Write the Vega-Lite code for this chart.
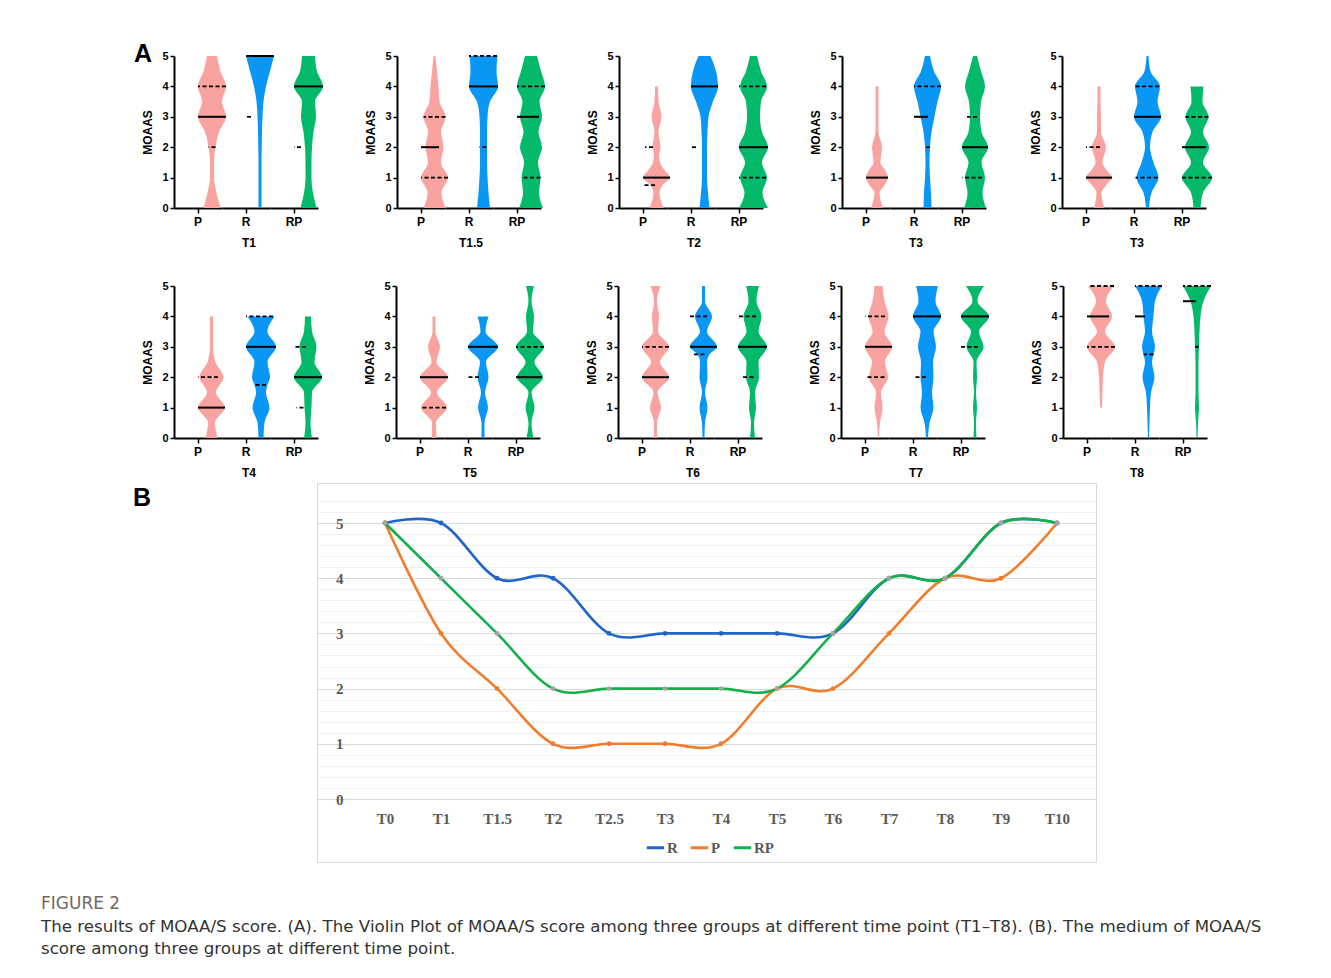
{
"$schema":"https://vega.github.io/schema/vega-lite/v6.json",
"background":"white",
"padding":{"left":41,"top":42,"right":10,"bottom":10},
"title":{"text":"FIGURE 2","subtitle":["The results of MOAA/S score. (A). The Violin Plot of MOAA/S score among three groups at different time point (T1–T8). (B). The medium of MOAA/S","score among three groups at different time point."],"orient":"bottom","anchor":"start","dx":-92,"offset":33,"font":"DejaVu Sans","fontSize":17,"fontWeight":"normal","color":"#75675C","subtitleFont":"DejaVu Sans","subtitleFontSize":16.7,"subtitleColor":"#333333","subtitleLineHeight":22,"subtitlePadding":6},
"datasets":{
"vio":[
{"p":1,"g":"P","k":"s","y":0,"d":17},{"p":1,"g":"P","k":"s","y":0.5,"d":9},{"p":1,"g":"P","k":"s","y":1,"d":4},{"p":1,"g":"P","k":"s","y":1.5,"d":4},{"p":1,"g":"P","k":"s","y":2,"d":7},{"p":1,"g":"P","k":"s","y":2.5,"d":14},{"p":1,"g":"P","k":"s","y":3,"d":28},{"p":1,"g":"P","k":"s","y":3.5,"d":20},{"p":1,"g":"P","k":"s","y":4,"d":28},{"p":1,"g":"P","k":"s","y":4.5,"d":17},{"p":1,"g":"P","k":"s","y":5,"d":10},
{"p":1,"g":"R","k":"s","y":0,"d":3},{"p":1,"g":"R","k":"s","y":0.5,"d":3},{"p":1,"g":"R","k":"s","y":1,"d":3},{"p":1,"g":"R","k":"s","y":1.5,"d":3},{"p":1,"g":"R","k":"s","y":2,"d":3.5},{"p":1,"g":"R","k":"s","y":2.5,"d":4},{"p":1,"g":"R","k":"s","y":3,"d":5},{"p":1,"g":"R","k":"s","y":3.5,"d":7},{"p":1,"g":"R","k":"s","y":4,"d":12},{"p":1,"g":"R","k":"s","y":4.5,"d":20},{"p":1,"g":"R","k":"s","y":5,"d":28},
{"p":1,"g":"RP","k":"s","y":0,"d":16},{"p":1,"g":"RP","k":"s","y":0.5,"d":9},{"p":1,"g":"RP","k":"s","y":1,"d":6},{"p":1,"g":"RP","k":"s","y":1.5,"d":6},{"p":1,"g":"RP","k":"s","y":2,"d":7},{"p":1,"g":"RP","k":"s","y":2.5,"d":10},{"p":1,"g":"RP","k":"s","y":3,"d":15},{"p":1,"g":"RP","k":"s","y":3.5,"d":13},{"p":1,"g":"RP","k":"s","y":4,"d":29},{"p":1,"g":"RP","k":"s","y":4.5,"d":17},{"p":1,"g":"RP","k":"s","y":5,"d":13},
{"p":1,"g":"P","k":"m","y":3,"d":28},{"p":1,"g":"R","k":"m","y":5,"d":28},{"p":1,"g":"RP","k":"m","y":4,"d":29},
{"p":1,"g":"P","k":"q","y":4,"d":28},{"p":1,"g":"P","k":"q","y":2,"d":7},{"p":1,"g":"R","k":"q","y":3,"d":5},{"p":1,"g":"RP","k":"q","y":2,"d":7},

{"p":2,"g":"P","k":"s","y":0,"d":22},{"p":2,"g":"P","k":"s","y":0.5,"d":14},{"p":2,"g":"P","k":"s","y":1,"d":27},{"p":2,"g":"P","k":"s","y":1.5,"d":13},{"p":2,"g":"P","k":"s","y":2,"d":18},{"p":2,"g":"P","k":"s","y":2.5,"d":13},{"p":2,"g":"P","k":"s","y":3,"d":22},{"p":2,"g":"P","k":"s","y":3.5,"d":10},{"p":2,"g":"P","k":"s","y":4,"d":8},{"p":2,"g":"P","k":"s","y":4.5,"d":5},{"p":2,"g":"P","k":"s","y":5,"d":2},
{"p":2,"g":"R","k":"s","y":0,"d":13},{"p":2,"g":"R","k":"s","y":0.5,"d":10},{"p":2,"g":"R","k":"s","y":1,"d":8},{"p":2,"g":"R","k":"s","y":1.5,"d":7},{"p":2,"g":"R","k":"s","y":2,"d":7},{"p":2,"g":"R","k":"s","y":2.5,"d":7},{"p":2,"g":"R","k":"s","y":3,"d":8},{"p":2,"g":"R","k":"s","y":3.5,"d":13},{"p":2,"g":"R","k":"s","y":4,"d":29},{"p":2,"g":"R","k":"s","y":4.5,"d":26},{"p":2,"g":"R","k":"s","y":5,"d":28},
{"p":2,"g":"RP","k":"s","y":0,"d":24},{"p":2,"g":"RP","k":"s","y":0.5,"d":16},{"p":2,"g":"RP","k":"s","y":1,"d":19},{"p":2,"g":"RP","k":"s","y":1.5,"d":14},{"p":2,"g":"RP","k":"s","y":2,"d":22},{"p":2,"g":"RP","k":"s","y":2.5,"d":15},{"p":2,"g":"RP","k":"s","y":3,"d":22},{"p":2,"g":"RP","k":"s","y":3.5,"d":17},{"p":2,"g":"RP","k":"s","y":4,"d":28},{"p":2,"g":"RP","k":"s","y":4.5,"d":20},{"p":2,"g":"RP","k":"s","y":5,"d":12},
{"p":2,"g":"P","k":"m","y":2,"d":18},{"p":2,"g":"R","k":"m","y":4,"d":29},{"p":2,"g":"RP","k":"m","y":3,"d":22},
{"p":2,"g":"P","k":"q","y":3,"d":22},{"p":2,"g":"P","k":"q","y":1,"d":27},{"p":2,"g":"R","k":"q","y":5,"d":28},{"p":2,"g":"R","k":"q","y":2,"d":7},{"p":2,"g":"RP","k":"q","y":4,"d":28},{"p":2,"g":"RP","k":"q","y":1,"d":19},

{"p":3,"g":"P","k":"s","y":0,"d":14},{"p":3,"g":"P","k":"s","y":0.5,"d":6},{"p":3,"g":"P","k":"s","y":0.75,"d":12},{"p":3,"g":"P","k":"s","y":1,"d":27},{"p":3,"g":"P","k":"s","y":1.25,"d":16},{"p":3,"g":"P","k":"s","y":1.5,"d":7},{"p":3,"g":"P","k":"s","y":1.75,"d":5},{"p":3,"g":"P","k":"s","y":2,"d":8},{"p":3,"g":"P","k":"s","y":2.5,"d":4},{"p":3,"g":"P","k":"s","y":3,"d":10},{"p":3,"g":"P","k":"s","y":3.5,"d":4},{"p":3,"g":"P","k":"s","y":4,"d":3},
{"p":3,"g":"R","k":"s","y":0,"d":10},{"p":3,"g":"R","k":"s","y":0.5,"d":7},{"p":3,"g":"R","k":"s","y":1,"d":5},{"p":3,"g":"R","k":"s","y":1.5,"d":5},{"p":3,"g":"R","k":"s","y":2,"d":5},{"p":3,"g":"R","k":"s","y":2.5,"d":6},{"p":3,"g":"R","k":"s","y":3,"d":8},{"p":3,"g":"R","k":"s","y":3.5,"d":17},{"p":3,"g":"R","k":"s","y":4,"d":27},{"p":3,"g":"R","k":"s","y":4.5,"d":23},{"p":3,"g":"R","k":"s","y":5,"d":12},
{"p":3,"g":"RP","k":"s","y":0,"d":29},{"p":3,"g":"RP","k":"s","y":0.5,"d":18},{"p":3,"g":"RP","k":"s","y":1,"d":27},{"p":3,"g":"RP","k":"s","y":1.5,"d":17},{"p":3,"g":"RP","k":"s","y":2,"d":29},{"p":3,"g":"RP","k":"s","y":2.5,"d":17},{"p":3,"g":"RP","k":"s","y":3,"d":13},{"p":3,"g":"RP","k":"s","y":3.5,"d":15},{"p":3,"g":"RP","k":"s","y":4,"d":27},{"p":3,"g":"RP","k":"s","y":4.5,"d":15},{"p":3,"g":"RP","k":"s","y":5,"d":7},
{"p":3,"g":"P","k":"m","y":1,"d":27},{"p":3,"g":"R","k":"m","y":4,"d":27},{"p":3,"g":"RP","k":"m","y":2,"d":29},
{"p":3,"g":"P","k":"q","y":2,"d":8},{"p":3,"g":"P","k":"q","y":0.75,"d":12},{"p":3,"g":"R","k":"q","y":2,"d":5},{"p":3,"g":"RP","k":"q","y":4,"d":27},{"p":3,"g":"RP","k":"q","y":1,"d":27},

{"p":4,"g":"P","k":"s","y":0,"d":12},{"p":4,"g":"P","k":"s","y":0.5,"d":5},{"p":4,"g":"P","k":"s","y":0.75,"d":15},{"p":4,"g":"P","k":"s","y":1,"d":22},{"p":4,"g":"P","k":"s","y":1.25,"d":16},{"p":4,"g":"P","k":"s","y":1.5,"d":7},{"p":4,"g":"P","k":"s","y":2,"d":10},{"p":4,"g":"P","k":"s","y":2.5,"d":3},{"p":4,"g":"P","k":"s","y":3,"d":3},{"p":4,"g":"P","k":"s","y":3.5,"d":3},{"p":4,"g":"P","k":"s","y":4,"d":3},
{"p":4,"g":"R","k":"s","y":0,"d":8},{"p":4,"g":"R","k":"s","y":0.5,"d":7},{"p":4,"g":"R","k":"s","y":1,"d":5},{"p":4,"g":"R","k":"s","y":1.5,"d":4},{"p":4,"g":"R","k":"s","y":2,"d":5},{"p":4,"g":"R","k":"s","y":2.5,"d":8},{"p":4,"g":"R","k":"s","y":3,"d":14},{"p":4,"g":"R","k":"s","y":3.5,"d":20},{"p":4,"g":"R","k":"s","y":4,"d":27},{"p":4,"g":"R","k":"s","y":4.5,"d":13},{"p":4,"g":"R","k":"s","y":5,"d":5},
{"p":4,"g":"RP","k":"s","y":0,"d":22},{"p":4,"g":"RP","k":"s","y":0.5,"d":15},{"p":4,"g":"RP","k":"s","y":1,"d":20},{"p":4,"g":"RP","k":"s","y":1.5,"d":13},{"p":4,"g":"RP","k":"s","y":2,"d":26},{"p":4,"g":"RP","k":"s","y":2.5,"d":13},{"p":4,"g":"RP","k":"s","y":3,"d":10},{"p":4,"g":"RP","k":"s","y":3.5,"d":12},{"p":4,"g":"RP","k":"s","y":4,"d":20},{"p":4,"g":"RP","k":"s","y":4.5,"d":12},{"p":4,"g":"RP","k":"s","y":5,"d":4},
{"p":4,"g":"P","k":"m","y":1,"d":22},{"p":4,"g":"R","k":"m","y":3,"d":14},{"p":4,"g":"RP","k":"m","y":2,"d":26},
{"p":4,"g":"R","k":"q","y":4,"d":27},{"p":4,"g":"R","k":"q","y":2,"d":5},{"p":4,"g":"RP","k":"q","y":3,"d":10},{"p":4,"g":"RP","k":"q","y":1,"d":20},

{"p":5,"g":"P","k":"s","y":0,"d":10},{"p":5,"g":"P","k":"s","y":0.5,"d":5},{"p":5,"g":"P","k":"s","y":0.75,"d":14},{"p":5,"g":"P","k":"s","y":1,"d":26},{"p":5,"g":"P","k":"s","y":1.25,"d":15},{"p":5,"g":"P","k":"s","y":1.5,"d":7},{"p":5,"g":"P","k":"s","y":2,"d":14},{"p":5,"g":"P","k":"s","y":2.5,"d":4},{"p":5,"g":"P","k":"s","y":3,"d":4},{"p":5,"g":"P","k":"s","y":3.5,"d":3},{"p":5,"g":"P","k":"s","y":4,"d":3},
{"p":5,"g":"R","k":"s","y":0,"d":3},{"p":5,"g":"R","k":"s","y":0.5,"d":8},{"p":5,"g":"R","k":"s","y":1,"d":22},{"p":5,"g":"R","k":"s","y":1.5,"d":12},{"p":5,"g":"R","k":"s","y":2,"d":5},{"p":5,"g":"R","k":"s","y":2.5,"d":10},{"p":5,"g":"R","k":"s","y":3,"d":27},{"p":5,"g":"R","k":"s","y":3.5,"d":20},{"p":5,"g":"R","k":"s","y":4,"d":25},{"p":5,"g":"R","k":"s","y":4.5,"d":6},{"p":5,"g":"R","k":"s","y":5,"d":2},
{"p":5,"g":"RP","k":"s","y":0,"d":7},{"p":5,"g":"RP","k":"s","y":0.5,"d":12},{"p":5,"g":"RP","k":"s","y":1,"d":30},{"p":5,"g":"RP","k":"s","y":1.5,"d":12},{"p":5,"g":"RP","k":"s","y":2,"d":24},{"p":5,"g":"RP","k":"s","y":2.5,"d":12},{"p":5,"g":"RP","k":"s","y":3,"d":23},{"p":5,"g":"RP","k":"s","y":3.5,"d":11},{"p":5,"g":"RP","k":"s","y":4,"d":13},
{"p":5,"g":"P","k":"m","y":1,"d":26},{"p":5,"g":"R","k":"m","y":3,"d":27},{"p":5,"g":"RP","k":"m","y":2,"d":24},
{"p":5,"g":"P","k":"q","y":2,"d":14},{"p":5,"g":"R","k":"q","y":4,"d":25},{"p":5,"g":"R","k":"q","y":1,"d":22},{"p":5,"g":"RP","k":"q","y":3,"d":23},{"p":5,"g":"RP","k":"q","y":1,"d":30},

{"p":6,"g":"P","k":"s","y":0,"d":12},{"p":6,"g":"P","k":"s","y":0.5,"d":7},{"p":6,"g":"P","k":"s","y":1,"d":27},{"p":6,"g":"P","k":"s","y":1.5,"d":9},{"p":6,"g":"P","k":"s","y":2,"d":24},{"p":6,"g":"P","k":"s","y":2.5,"d":8},{"p":6,"g":"P","k":"s","y":3,"d":3},{"p":6,"g":"P","k":"s","y":3.5,"d":3},{"p":6,"g":"P","k":"s","y":4,"d":3},
{"p":6,"g":"R","k":"s","y":0,"d":5},{"p":6,"g":"R","k":"s","y":0.5,"d":7},{"p":6,"g":"R","k":"s","y":1,"d":17},{"p":6,"g":"R","k":"s","y":1.5,"d":10},{"p":6,"g":"R","k":"s","y":1.75,"d":13},{"p":6,"g":"R","k":"s","y":2,"d":18},{"p":6,"g":"R","k":"s","y":2.5,"d":13},{"p":6,"g":"R","k":"s","y":3,"d":30},{"p":6,"g":"R","k":"s","y":3.5,"d":13},{"p":6,"g":"R","k":"s","y":4,"d":27},
{"p":6,"g":"RP","k":"s","y":0,"d":8},{"p":6,"g":"RP","k":"s","y":0.5,"d":5},{"p":6,"g":"RP","k":"s","y":1,"d":7},{"p":6,"g":"RP","k":"s","y":1.5,"d":8},{"p":6,"g":"RP","k":"s","y":2,"d":28},{"p":6,"g":"RP","k":"s","y":2.5,"d":13},{"p":6,"g":"RP","k":"s","y":3,"d":17},{"p":6,"g":"RP","k":"s","y":3.5,"d":8},{"p":6,"g":"RP","k":"s","y":4,"d":6},
{"p":6,"g":"P","k":"m","y":1,"d":27},{"p":6,"g":"R","k":"m","y":3,"d":30},{"p":6,"g":"RP","k":"m","y":2,"d":28},
{"p":6,"g":"P","k":"q","y":2,"d":20},{"p":6,"g":"R","k":"q","y":4,"d":27},{"p":6,"g":"R","k":"q","y":1.75,"d":13},{"p":6,"g":"RP","k":"q","y":3,"d":12},{"p":6,"g":"RP","k":"q","y":1,"d":7},

{"p":7,"g":"P","k":"s","y":0,"d":5},{"p":7,"g":"P","k":"s","y":0.5,"d":4},{"p":7,"g":"P","k":"s","y":1,"d":26},{"p":7,"g":"P","k":"s","y":1.5,"d":6},{"p":7,"g":"P","k":"s","y":2,"d":28},{"p":7,"g":"P","k":"s","y":2.5,"d":5},{"p":7,"g":"P","k":"s","y":3,"d":12},{"p":7,"g":"P","k":"s","y":3.5,"d":3},{"p":7,"g":"P","k":"s","y":4,"d":3},
{"p":7,"g":"R","k":"s","y":0,"d":3},{"p":7,"g":"R","k":"s","y":0.5,"d":3},{"p":7,"g":"R","k":"s","y":1,"d":10},{"p":7,"g":"R","k":"s","y":1.5,"d":4},{"p":7,"g":"R","k":"s","y":2,"d":11},{"p":7,"g":"R","k":"s","y":2.5,"d":6},{"p":7,"g":"R","k":"s","y":3,"d":30},{"p":7,"g":"R","k":"s","y":3.5,"d":5},{"p":7,"g":"R","k":"s","y":4,"d":11},
{"p":7,"g":"RP","k":"s","y":0,"d":7},{"p":7,"g":"RP","k":"s","y":0.5,"d":3},{"p":7,"g":"RP","k":"s","y":1,"d":9},{"p":7,"g":"RP","k":"s","y":1.5,"d":3},{"p":7,"g":"RP","k":"s","y":2,"d":26},{"p":7,"g":"RP","k":"s","y":2.5,"d":9},{"p":7,"g":"RP","k":"s","y":3,"d":28},{"p":7,"g":"RP","k":"s","y":3.5,"d":6},{"p":7,"g":"RP","k":"s","y":4,"d":8},{"p":7,"g":"RP","k":"s","y":4.5,"d":3},{"p":7,"g":"RP","k":"s","y":5,"d":8},
{"p":7,"g":"P","k":"m","y":2,"d":28},{"p":7,"g":"R","k":"m","y":3,"d":30},{"p":7,"g":"RP","k":"m","y":2,"d":26},
{"p":7,"g":"P","k":"q","y":1,"d":26},{"p":7,"g":"R","k":"q","y":2,"d":11},{"p":7,"g":"RP","k":"q","y":3,"d":28},

{"p":8,"g":"P","k":"s","y":0,"d":3},{"p":8,"g":"P","k":"s","y":0.5,"d":3},{"p":8,"g":"P","k":"s","y":1,"d":11},{"p":8,"g":"P","k":"s","y":1.5,"d":4},{"p":8,"g":"P","k":"s","y":2,"d":27},{"p":8,"g":"P","k":"s","y":2.5,"d":9},{"p":8,"g":"P","k":"s","y":3,"d":27},{"p":8,"g":"P","k":"s","y":3.5,"d":5},{"p":8,"g":"P","k":"s","y":4,"d":7},{"p":8,"g":"P","k":"s","y":4.5,"d":3},{"p":8,"g":"P","k":"s","y":5,"d":10},
{"p":8,"g":"R","k":"s","y":0,"d":2},{"p":8,"g":"R","k":"s","y":0.5,"d":3},{"p":8,"g":"R","k":"s","y":1,"d":8},{"p":8,"g":"R","k":"s","y":1.5,"d":3},{"p":8,"g":"R","k":"s","y":2,"d":8},{"p":8,"g":"R","k":"s","y":2.5,"d":7},{"p":8,"g":"R","k":"s","y":2.75,"d":12},{"p":8,"g":"R","k":"s","y":3,"d":27},{"p":8,"g":"R","k":"s","y":3.5,"d":7},{"p":8,"g":"R","k":"s","y":4,"d":17},{"p":8,"g":"R","k":"s","y":4.5,"d":3},{"p":8,"g":"R","k":"s","y":5,"d":3},
{"p":8,"g":"RP","k":"s","y":0,"d":5},{"p":8,"g":"RP","k":"s","y":0.5,"d":3},{"p":8,"g":"RP","k":"s","y":1,"d":7},{"p":8,"g":"RP","k":"s","y":1.5,"d":5},{"p":8,"g":"RP","k":"s","y":2,"d":13},{"p":8,"g":"RP","k":"s","y":2.5,"d":12},{"p":8,"g":"RP","k":"s","y":3,"d":29},{"p":8,"g":"RP","k":"s","y":3.5,"d":12},{"p":8,"g":"RP","k":"s","y":4,"d":18},{"p":8,"g":"RP","k":"s","y":4.5,"d":8},{"p":8,"g":"RP","k":"s","y":5,"d":13},
{"p":8,"g":"P","k":"m","y":2,"d":27},{"p":8,"g":"R","k":"m","y":3,"d":27},{"p":8,"g":"RP","k":"m","y":3,"d":29},
{"p":8,"g":"P","k":"q","y":3,"d":27},{"p":8,"g":"R","k":"q","y":4,"d":17},{"p":8,"g":"R","k":"q","y":2.75,"d":12},{"p":8,"g":"RP","k":"q","y":4,"d":18},{"p":8,"g":"RP","k":"q","y":2,"d":13},

{"p":9,"g":"P","k":"s","y":0,"d":1},{"p":9,"g":"P","k":"s","y":0.5,"d":3},{"p":9,"g":"P","k":"s","y":1,"d":8},{"p":9,"g":"P","k":"s","y":1.5,"d":5},{"p":9,"g":"P","k":"s","y":2,"d":19},{"p":9,"g":"P","k":"s","y":2.5,"d":13},{"p":9,"g":"P","k":"s","y":3,"d":27},{"p":9,"g":"P","k":"s","y":3.5,"d":12},{"p":9,"g":"P","k":"s","y":4,"d":20},{"p":9,"g":"P","k":"s","y":4.5,"d":12},{"p":9,"g":"P","k":"s","y":5,"d":8},
{"p":9,"g":"R","k":"s","y":0,"d":2},{"p":9,"g":"R","k":"s","y":0.5,"d":5},{"p":9,"g":"R","k":"s","y":1,"d":13},{"p":9,"g":"R","k":"s","y":1.5,"d":10},{"p":9,"g":"R","k":"s","y":2,"d":13},{"p":9,"g":"R","k":"s","y":2.5,"d":12},{"p":9,"g":"R","k":"s","y":3,"d":18},{"p":9,"g":"R","k":"s","y":3.5,"d":13},{"p":9,"g":"R","k":"s","y":4,"d":28},{"p":9,"g":"R","k":"s","y":4.5,"d":17},{"p":9,"g":"R","k":"s","y":5,"d":22},
{"p":9,"g":"RP","k":"s","y":0,"d":3},{"p":9,"g":"RP","k":"s","y":0.5,"d":2},{"p":9,"g":"RP","k":"s","y":1,"d":4},{"p":9,"g":"RP","k":"s","y":1.5,"d":2},{"p":9,"g":"RP","k":"s","y":2,"d":4},{"p":9,"g":"RP","k":"s","y":2.5,"d":3},{"p":9,"g":"RP","k":"s","y":3,"d":17},{"p":9,"g":"RP","k":"s","y":3.5,"d":8},{"p":9,"g":"RP","k":"s","y":4,"d":28},{"p":9,"g":"RP","k":"s","y":4.5,"d":5},{"p":9,"g":"RP","k":"s","y":5,"d":18},
{"p":9,"g":"P","k":"m","y":3,"d":27},{"p":9,"g":"R","k":"m","y":4,"d":28},{"p":9,"g":"RP","k":"m","y":4,"d":28},
{"p":9,"g":"P","k":"q","y":4,"d":20},{"p":9,"g":"P","k":"q","y":2,"d":19},{"p":9,"g":"R","k":"q","y":2,"d":13},{"p":9,"g":"RP","k":"q","y":3,"d":17},

{"p":10,"g":"P","k":"s","y":1,"d":2},{"p":10,"g":"P","k":"s","y":1.5,"d":3},{"p":10,"g":"P","k":"s","y":2,"d":4},{"p":10,"g":"P","k":"s","y":2.5,"d":8},{"p":10,"g":"P","k":"s","y":3,"d":28},{"p":10,"g":"P","k":"s","y":3.5,"d":8},{"p":10,"g":"P","k":"s","y":4,"d":22},{"p":10,"g":"P","k":"s","y":4.5,"d":10},{"p":10,"g":"P","k":"s","y":5,"d":26},
{"p":10,"g":"R","k":"s","y":0,"d":1},{"p":10,"g":"R","k":"s","y":0.5,"d":2},{"p":10,"g":"R","k":"s","y":1,"d":3},{"p":10,"g":"R","k":"s","y":1.5,"d":5},{"p":10,"g":"R","k":"s","y":2,"d":12},{"p":10,"g":"R","k":"s","y":2.5,"d":7},{"p":10,"g":"R","k":"s","y":3,"d":13},{"p":10,"g":"R","k":"s","y":3.5,"d":7},{"p":10,"g":"R","k":"s","y":4,"d":10},{"p":10,"g":"R","k":"s","y":4.5,"d":13},{"p":10,"g":"R","k":"s","y":5,"d":27},
{"p":10,"g":"RP","k":"s","y":0,"d":1},{"p":10,"g":"RP","k":"s","y":0.5,"d":2},{"p":10,"g":"RP","k":"s","y":1,"d":4},{"p":10,"g":"RP","k":"s","y":1.5,"d":3},{"p":10,"g":"RP","k":"s","y":2,"d":3},{"p":10,"g":"RP","k":"s","y":2.5,"d":3},{"p":10,"g":"RP","k":"s","y":3,"d":4},{"p":10,"g":"RP","k":"s","y":3.5,"d":5},{"p":10,"g":"RP","k":"s","y":4,"d":7},{"p":10,"g":"RP","k":"s","y":4.5,"d":13},{"p":10,"g":"RP","k":"s","y":5,"d":28},
{"p":10,"g":"P","k":"m","y":4,"d":22},{"p":10,"g":"R","k":"m","y":4,"d":10},{"p":10,"g":"RP","k":"m","y":4.5,"d":13},
{"p":10,"g":"P","k":"q","y":5,"d":26},{"p":10,"g":"P","k":"q","y":3,"d":28},{"p":10,"g":"R","k":"q","y":5,"d":27},{"p":10,"g":"R","k":"q","y":2.75,"d":10},{"p":10,"g":"RP","k":"q","y":5,"d":28},{"p":10,"g":"RP","k":"q","y":3,"d":4}
],
"med":[
{"t":"T0","s":"R","v":5},{"t":"T1","s":"R","v":5},{"t":"T1.5","s":"R","v":4},{"t":"T2","s":"R","v":4},{"t":"T2.5","s":"R","v":3},{"t":"T3","s":"R","v":3},{"t":"T4","s":"R","v":3},{"t":"T5","s":"R","v":3},{"t":"T6","s":"R","v":3},{"t":"T7","s":"R","v":4},{"t":"T8","s":"R","v":4},{"t":"T9","s":"R","v":5},{"t":"T10","s":"R","v":5},
{"t":"T0","s":"P","v":5},{"t":"T1","s":"P","v":3},{"t":"T1.5","s":"P","v":2},{"t":"T2","s":"P","v":1},{"t":"T2.5","s":"P","v":1},{"t":"T3","s":"P","v":1},{"t":"T4","s":"P","v":1},{"t":"T5","s":"P","v":2},{"t":"T6","s":"P","v":2},{"t":"T7","s":"P","v":3},{"t":"T8","s":"P","v":4},{"t":"T9","s":"P","v":4},{"t":"T10","s":"P","v":5},
{"t":"T0","s":"RP","v":5},{"t":"T1","s":"RP","v":4},{"t":"T1.5","s":"RP","v":3},{"t":"T2","s":"RP","v":2},{"t":"T2.5","s":"RP","v":2},{"t":"T3","s":"RP","v":2},{"t":"T4","s":"RP","v":2},{"t":"T5","s":"RP","v":2},{"t":"T6","s":"RP","v":3},{"t":"T7","s":"RP","v":4},{"t":"T8","s":"RP","v":4},{"t":"T9","s":"RP","v":5},{"t":"T10","s":"RP","v":5}
]
},
"vconcat":[
{"vconcat":[
{"title":{"text":"A","anchor":"start","dx":-8,"offset":-17,"fontSize":25,"font":"Liberation Sans","fontWeight":"bold","color":"#000000"},
"hconcat":[
{"data":{"name":"vio"},"transform":[{"filter":"datum.p==1"}],"facet":{"column":{"field":"g","type":"nominal","sort":["P","R","RP"],"title":"T1"}},"spacing":0,"bounds":"flush","spec":{"width":48,"height":152,"layer":[{"transform":[{"filter":"datum.k=='s'"}],"mark":{"type":"area","orient":"horizontal","interpolate":"monotone"},"encoding":{"y":{"field":"y","type":"quantitative","title":"MOAAS","scale":{"domain":[0,5],"nice":false},"axis":{"values":[0,1,2,3,4,5]}},"x":{"field":"d","type":"quantitative","stack":"center","impute":null,"title":null,"scale":{"domain":[-24,24],"nice":false},"axis":{"values":[0],"labels":false,"tickSize":5}},"color":{"field":"g","type":"nominal","scale":{"domain":["P","R","RP"],"range":["#F8A3A0","#0A96F5","#04BA6A"]},"legend":null}}},{"transform":[{"filter":"datum.k=='m'"}],"mark":{"type":"rule","orient":"horizontal","color":"#000000","strokeWidth":2},"encoding":{"y":{"field":"y","type":"quantitative","title":"MOAAS","axis":{"values":[0,1,2,3,4,5]}},"x":{"field":"d","type":"quantitative","stack":"center","title":null,"axis":{"values":[0],"labels":false,"tickSize":5}}}},{"transform":[{"filter":"datum.k=='q'"}],"mark":{"type":"rule","orient":"horizontal","color":"#000000","strokeWidth":1.8,"strokeDash":[4,2.5]},"encoding":{"y":{"field":"y","type":"quantitative","title":"MOAAS","axis":{"values":[0,1,2,3,4,5]}},"x":{"field":"d","type":"quantitative","stack":"center","title":null,"axis":{"values":[0],"labels":false,"tickSize":5}}}}]}},
{"data":{"name":"vio"},"transform":[{"filter":"datum.p==2"}],"facet":{"column":{"field":"g","type":"nominal","sort":["P","R","RP"],"title":"T1.5"}},"spacing":0,"bounds":"flush","spec":{"width":48,"height":152,"layer":[{"transform":[{"filter":"datum.k=='s'"}],"mark":{"type":"area","orient":"horizontal","interpolate":"monotone"},"encoding":{"y":{"field":"y","type":"quantitative","title":"MOAAS","scale":{"domain":[0,5],"nice":false},"axis":{"values":[0,1,2,3,4,5]}},"x":{"field":"d","type":"quantitative","stack":"center","impute":null,"title":null,"scale":{"domain":[-24,24],"nice":false},"axis":{"values":[0],"labels":false,"tickSize":5}},"color":{"field":"g","type":"nominal","scale":{"domain":["P","R","RP"],"range":["#F8A3A0","#0A96F5","#04BA6A"]},"legend":null}}},{"transform":[{"filter":"datum.k=='m'"}],"mark":{"type":"rule","orient":"horizontal","color":"#000000","strokeWidth":2},"encoding":{"y":{"field":"y","type":"quantitative","title":"MOAAS","axis":{"values":[0,1,2,3,4,5]}},"x":{"field":"d","type":"quantitative","stack":"center","title":null,"axis":{"values":[0],"labels":false,"tickSize":5}}}},{"transform":[{"filter":"datum.k=='q'"}],"mark":{"type":"rule","orient":"horizontal","color":"#000000","strokeWidth":1.8,"strokeDash":[4,2.5]},"encoding":{"y":{"field":"y","type":"quantitative","title":"MOAAS","axis":{"values":[0,1,2,3,4,5]}},"x":{"field":"d","type":"quantitative","stack":"center","title":null,"axis":{"values":[0],"labels":false,"tickSize":5}}}}]}},
{"data":{"name":"vio"},"transform":[{"filter":"datum.p==3"}],"facet":{"column":{"field":"g","type":"nominal","sort":["P","R","RP"],"title":"T2"}},"spacing":0,"bounds":"flush","spec":{"width":48,"height":152,"layer":[{"transform":[{"filter":"datum.k=='s'"}],"mark":{"type":"area","orient":"horizontal","interpolate":"monotone"},"encoding":{"y":{"field":"y","type":"quantitative","title":"MOAAS","scale":{"domain":[0,5],"nice":false},"axis":{"values":[0,1,2,3,4,5]}},"x":{"field":"d","type":"quantitative","stack":"center","impute":null,"title":null,"scale":{"domain":[-24,24],"nice":false},"axis":{"values":[0],"labels":false,"tickSize":5}},"color":{"field":"g","type":"nominal","scale":{"domain":["P","R","RP"],"range":["#F8A3A0","#0A96F5","#04BA6A"]},"legend":null}}},{"transform":[{"filter":"datum.k=='m'"}],"mark":{"type":"rule","orient":"horizontal","color":"#000000","strokeWidth":2},"encoding":{"y":{"field":"y","type":"quantitative","title":"MOAAS","axis":{"values":[0,1,2,3,4,5]}},"x":{"field":"d","type":"quantitative","stack":"center","title":null,"axis":{"values":[0],"labels":false,"tickSize":5}}}},{"transform":[{"filter":"datum.k=='q'"}],"mark":{"type":"rule","orient":"horizontal","color":"#000000","strokeWidth":1.8,"strokeDash":[4,2.5]},"encoding":{"y":{"field":"y","type":"quantitative","title":"MOAAS","axis":{"values":[0,1,2,3,4,5]}},"x":{"field":"d","type":"quantitative","stack":"center","title":null,"axis":{"values":[0],"labels":false,"tickSize":5}}}}]}},
{"data":{"name":"vio"},"transform":[{"filter":"datum.p==4"}],"facet":{"column":{"field":"g","type":"nominal","sort":["P","R","RP"],"title":"T3"}},"spacing":0,"bounds":"flush","spec":{"width":48,"height":152,"layer":[{"transform":[{"filter":"datum.k=='s'"}],"mark":{"type":"area","orient":"horizontal","interpolate":"monotone"},"encoding":{"y":{"field":"y","type":"quantitative","title":"MOAAS","scale":{"domain":[0,5],"nice":false},"axis":{"values":[0,1,2,3,4,5]}},"x":{"field":"d","type":"quantitative","stack":"center","impute":null,"title":null,"scale":{"domain":[-24,24],"nice":false},"axis":{"values":[0],"labels":false,"tickSize":5}},"color":{"field":"g","type":"nominal","scale":{"domain":["P","R","RP"],"range":["#F8A3A0","#0A96F5","#04BA6A"]},"legend":null}}},{"transform":[{"filter":"datum.k=='m'"}],"mark":{"type":"rule","orient":"horizontal","color":"#000000","strokeWidth":2},"encoding":{"y":{"field":"y","type":"quantitative","title":"MOAAS","axis":{"values":[0,1,2,3,4,5]}},"x":{"field":"d","type":"quantitative","stack":"center","title":null,"axis":{"values":[0],"labels":false,"tickSize":5}}}},{"transform":[{"filter":"datum.k=='q'"}],"mark":{"type":"rule","orient":"horizontal","color":"#000000","strokeWidth":1.8,"strokeDash":[4,2.5]},"encoding":{"y":{"field":"y","type":"quantitative","title":"MOAAS","axis":{"values":[0,1,2,3,4,5]}},"x":{"field":"d","type":"quantitative","stack":"center","title":null,"axis":{"values":[0],"labels":false,"tickSize":5}}}}]}},
{"data":{"name":"vio"},"transform":[{"filter":"datum.p==5"}],"facet":{"column":{"field":"g","type":"nominal","sort":["P","R","RP"],"title":"T3"}},"spacing":0,"bounds":"flush","spec":{"width":48,"height":152,"layer":[{"transform":[{"filter":"datum.k=='s'"}],"mark":{"type":"area","orient":"horizontal","interpolate":"monotone"},"encoding":{"y":{"field":"y","type":"quantitative","title":"MOAAS","scale":{"domain":[0,5],"nice":false},"axis":{"values":[0,1,2,3,4,5]}},"x":{"field":"d","type":"quantitative","stack":"center","impute":null,"title":null,"scale":{"domain":[-24,24],"nice":false},"axis":{"values":[0],"labels":false,"tickSize":5}},"color":{"field":"g","type":"nominal","scale":{"domain":["P","R","RP"],"range":["#F8A3A0","#0A96F5","#04BA6A"]},"legend":null}}},{"transform":[{"filter":"datum.k=='m'"}],"mark":{"type":"rule","orient":"horizontal","color":"#000000","strokeWidth":2},"encoding":{"y":{"field":"y","type":"quantitative","title":"MOAAS","axis":{"values":[0,1,2,3,4,5]}},"x":{"field":"d","type":"quantitative","stack":"center","title":null,"axis":{"values":[0],"labels":false,"tickSize":5}}}},{"transform":[{"filter":"datum.k=='q'"}],"mark":{"type":"rule","orient":"horizontal","color":"#000000","strokeWidth":1.8,"strokeDash":[4,2.5]},"encoding":{"y":{"field":"y","type":"quantitative","title":"MOAAS","axis":{"values":[0,1,2,3,4,5]}},"x":{"field":"d","type":"quantitative","stack":"center","title":null,"axis":{"values":[0],"labels":false,"tickSize":5}}}}]}}
],"spacing":40},
{"hconcat":[
{"data":{"name":"vio"},"transform":[{"filter":"datum.p==6"}],"facet":{"column":{"field":"g","type":"nominal","sort":["P","R","RP"],"title":"T4"}},"spacing":0,"bounds":"flush","spec":{"width":48,"height":152,"layer":[{"transform":[{"filter":"datum.k=='s'"}],"mark":{"type":"area","orient":"horizontal","interpolate":"monotone"},"encoding":{"y":{"field":"y","type":"quantitative","title":"MOAAS","scale":{"domain":[0,5],"nice":false},"axis":{"values":[0,1,2,3,4,5]}},"x":{"field":"d","type":"quantitative","stack":"center","impute":null,"title":null,"scale":{"domain":[-24,24],"nice":false},"axis":{"values":[0],"labels":false,"tickSize":5}},"color":{"field":"g","type":"nominal","scale":{"domain":["P","R","RP"],"range":["#F8A3A0","#0A96F5","#04BA6A"]},"legend":null}}},{"transform":[{"filter":"datum.k=='m'"}],"mark":{"type":"rule","orient":"horizontal","color":"#000000","strokeWidth":2},"encoding":{"y":{"field":"y","type":"quantitative","title":"MOAAS","axis":{"values":[0,1,2,3,4,5]}},"x":{"field":"d","type":"quantitative","stack":"center","title":null,"axis":{"values":[0],"labels":false,"tickSize":5}}}},{"transform":[{"filter":"datum.k=='q'"}],"mark":{"type":"rule","orient":"horizontal","color":"#000000","strokeWidth":1.8,"strokeDash":[4,2.5]},"encoding":{"y":{"field":"y","type":"quantitative","title":"MOAAS","axis":{"values":[0,1,2,3,4,5]}},"x":{"field":"d","type":"quantitative","stack":"center","title":null,"axis":{"values":[0],"labels":false,"tickSize":5}}}}]}},
{"data":{"name":"vio"},"transform":[{"filter":"datum.p==7"}],"facet":{"column":{"field":"g","type":"nominal","sort":["P","R","RP"],"title":"T5"}},"spacing":0,"bounds":"flush","spec":{"width":48,"height":152,"layer":[{"transform":[{"filter":"datum.k=='s'"}],"mark":{"type":"area","orient":"horizontal","interpolate":"monotone"},"encoding":{"y":{"field":"y","type":"quantitative","title":"MOAAS","scale":{"domain":[0,5],"nice":false},"axis":{"values":[0,1,2,3,4,5]}},"x":{"field":"d","type":"quantitative","stack":"center","impute":null,"title":null,"scale":{"domain":[-24,24],"nice":false},"axis":{"values":[0],"labels":false,"tickSize":5}},"color":{"field":"g","type":"nominal","scale":{"domain":["P","R","RP"],"range":["#F8A3A0","#0A96F5","#04BA6A"]},"legend":null}}},{"transform":[{"filter":"datum.k=='m'"}],"mark":{"type":"rule","orient":"horizontal","color":"#000000","strokeWidth":2},"encoding":{"y":{"field":"y","type":"quantitative","title":"MOAAS","axis":{"values":[0,1,2,3,4,5]}},"x":{"field":"d","type":"quantitative","stack":"center","title":null,"axis":{"values":[0],"labels":false,"tickSize":5}}}},{"transform":[{"filter":"datum.k=='q'"}],"mark":{"type":"rule","orient":"horizontal","color":"#000000","strokeWidth":1.8,"strokeDash":[4,2.5]},"encoding":{"y":{"field":"y","type":"quantitative","title":"MOAAS","axis":{"values":[0,1,2,3,4,5]}},"x":{"field":"d","type":"quantitative","stack":"center","title":null,"axis":{"values":[0],"labels":false,"tickSize":5}}}}]}},
{"data":{"name":"vio"},"transform":[{"filter":"datum.p==8"}],"facet":{"column":{"field":"g","type":"nominal","sort":["P","R","RP"],"title":"T6"}},"spacing":0,"bounds":"flush","spec":{"width":48,"height":152,"layer":[{"transform":[{"filter":"datum.k=='s'"}],"mark":{"type":"area","orient":"horizontal","interpolate":"monotone"},"encoding":{"y":{"field":"y","type":"quantitative","title":"MOAAS","scale":{"domain":[0,5],"nice":false},"axis":{"values":[0,1,2,3,4,5]}},"x":{"field":"d","type":"quantitative","stack":"center","impute":null,"title":null,"scale":{"domain":[-24,24],"nice":false},"axis":{"values":[0],"labels":false,"tickSize":5}},"color":{"field":"g","type":"nominal","scale":{"domain":["P","R","RP"],"range":["#F8A3A0","#0A96F5","#04BA6A"]},"legend":null}}},{"transform":[{"filter":"datum.k=='m'"}],"mark":{"type":"rule","orient":"horizontal","color":"#000000","strokeWidth":2},"encoding":{"y":{"field":"y","type":"quantitative","title":"MOAAS","axis":{"values":[0,1,2,3,4,5]}},"x":{"field":"d","type":"quantitative","stack":"center","title":null,"axis":{"values":[0],"labels":false,"tickSize":5}}}},{"transform":[{"filter":"datum.k=='q'"}],"mark":{"type":"rule","orient":"horizontal","color":"#000000","strokeWidth":1.8,"strokeDash":[4,2.5]},"encoding":{"y":{"field":"y","type":"quantitative","title":"MOAAS","axis":{"values":[0,1,2,3,4,5]}},"x":{"field":"d","type":"quantitative","stack":"center","title":null,"axis":{"values":[0],"labels":false,"tickSize":5}}}}]}},
{"data":{"name":"vio"},"transform":[{"filter":"datum.p==9"}],"facet":{"column":{"field":"g","type":"nominal","sort":["P","R","RP"],"title":"T7"}},"spacing":0,"bounds":"flush","spec":{"width":48,"height":152,"layer":[{"transform":[{"filter":"datum.k=='s'"}],"mark":{"type":"area","orient":"horizontal","interpolate":"monotone"},"encoding":{"y":{"field":"y","type":"quantitative","title":"MOAAS","scale":{"domain":[0,5],"nice":false},"axis":{"values":[0,1,2,3,4,5]}},"x":{"field":"d","type":"quantitative","stack":"center","impute":null,"title":null,"scale":{"domain":[-24,24],"nice":false},"axis":{"values":[0],"labels":false,"tickSize":5}},"color":{"field":"g","type":"nominal","scale":{"domain":["P","R","RP"],"range":["#F8A3A0","#0A96F5","#04BA6A"]},"legend":null}}},{"transform":[{"filter":"datum.k=='m'"}],"mark":{"type":"rule","orient":"horizontal","color":"#000000","strokeWidth":2},"encoding":{"y":{"field":"y","type":"quantitative","title":"MOAAS","axis":{"values":[0,1,2,3,4,5]}},"x":{"field":"d","type":"quantitative","stack":"center","title":null,"axis":{"values":[0],"labels":false,"tickSize":5}}}},{"transform":[{"filter":"datum.k=='q'"}],"mark":{"type":"rule","orient":"horizontal","color":"#000000","strokeWidth":1.8,"strokeDash":[4,2.5]},"encoding":{"y":{"field":"y","type":"quantitative","title":"MOAAS","axis":{"values":[0,1,2,3,4,5]}},"x":{"field":"d","type":"quantitative","stack":"center","title":null,"axis":{"values":[0],"labels":false,"tickSize":5}}}}]}},
{"data":{"name":"vio"},"transform":[{"filter":"datum.p==10"}],"facet":{"column":{"field":"g","type":"nominal","sort":["P","R","RP"],"title":"T8"}},"spacing":0,"bounds":"flush","spec":{"width":48,"height":152,"layer":[{"transform":[{"filter":"datum.k=='s'"}],"mark":{"type":"area","orient":"horizontal","interpolate":"monotone"},"encoding":{"y":{"field":"y","type":"quantitative","title":"MOAAS","scale":{"domain":[0,5],"nice":false},"axis":{"values":[0,1,2,3,4,5]}},"x":{"field":"d","type":"quantitative","stack":"center","impute":null,"title":null,"scale":{"domain":[-24,24],"nice":false},"axis":{"values":[0],"labels":false,"tickSize":5}},"color":{"field":"g","type":"nominal","scale":{"domain":["P","R","RP"],"range":["#F8A3A0","#0A96F5","#04BA6A"]},"legend":null}}},{"transform":[{"filter":"datum.k=='m'"}],"mark":{"type":"rule","orient":"horizontal","color":"#000000","strokeWidth":2},"encoding":{"y":{"field":"y","type":"quantitative","title":"MOAAS","axis":{"values":[0,1,2,3,4,5]}},"x":{"field":"d","type":"quantitative","stack":"center","title":null,"axis":{"values":[0],"labels":false,"tickSize":5}}}},{"transform":[{"filter":"datum.k=='q'"}],"mark":{"type":"rule","orient":"horizontal","color":"#000000","strokeWidth":1.8,"strokeDash":[4,2.5]},"encoding":{"y":{"field":"y","type":"quantitative","title":"MOAAS","axis":{"values":[0,1,2,3,4,5]}},"x":{"field":"d","type":"quantitative","stack":"center","title":null,"axis":{"values":[0],"labels":false,"tickSize":5}}}}]}}
],"spacing":40}
],"spacing":31},
{"hconcat":[
{"width":142,"height":379,"data":{"values":[]},"mark":"point",
"title":{"text":"B","anchor":"start","dx":-41,"offset":-28,"fontSize":25,"font":"Liberation Sans","fontWeight":"bold","color":"#000000"}},
{"data":{"name":"med"},
"width":779,"height":379,
"view":{"stroke":"#D9D9D9","strokeWidth":1},
"encoding":{"x":{"field":"t","type":"ordinal","sort":["T0","T1","T1.5","T2","T2.5","T3","T4","T5","T6","T7","T8","T9","T10"],"scale":{"type":"point","padding":0.955,"align":0.636},"axis":{"title":null,"domain":false,"ticks":false,"grid":false,"labelAngle":0,"offset":-55,"labelPadding":4,"labelFont":"Liberation Serif","labelFontWeight":"bold","labelFontSize":15,"labelColor":"#595959"}}},
"layer":[
{"mark":{"type":"line","interpolate":"cardinal","strokeWidth":2.6},
"encoding":{"y":{"field":"v","type":"quantitative","scale":{"domain":[-1.141,5.725],"nice":false,"zero":false},"axis":{"orient":"left","title":null,"values":[0.2,0.4,0.6,0.8,1.2,1.4,1.6,1.8,2.2,2.4,2.6,2.8,3.2,3.4,3.6,3.8,4.2,4.4,4.6,4.8,5.2,5.4],"labels":false,"ticks":false,"domain":false,"grid":true,"gridColor":"#EFEFEF","gridWidth":1,"zindex":0}},
"stroke":{"field":"s","type":"nominal","scale":{"domain":["R","P","RP"],"range":["#2166C6","#F07D2C","#14B04A"]},"legend":{"orient":"none","legendX":471,"legendY":781,"direction":"horizontal","title":null,"symbolType":"stroke","symbolStrokeWidth":3,"symbolSize":300,"labelFont":"Liberation Serif","labelFontSize":15,"labelFontWeight":"bold","labelColor":"#595959","columnPadding":6,"labelOffset":1}}}},
{"mark":{"type":"point","filled":true,"size":24,"opacity":1},
"encoding":{"y":{"field":"v","type":"quantitative","title":null,"axis":{"orient":"left","title":null,"values":[0,1,2,3,4,5],"ticks":false,"domain":false,"grid":true,"gridColor":"#D9D9D9","gridWidth":1,"offset":-31,"labelPadding":5,"labelFont":"Liberation Serif","labelFontWeight":"bold","labelFontSize":15,"labelColor":"#595959","zindex":0}},
"fill":{"field":"s","type":"nominal","scale":{"domain":["R","P","RP"],"range":["#2166C6","#F07D2C","#A5A5A5"]},"legend":null}}}
],
"resolve":{"axis":{"y":"independent"}}}
],"spacing":0}
],
"spacing":3,
"config":{"view":{"stroke":null},"font":"Liberation Sans","facet":{"spacing":0},
"axis":{"domainColor":"#000000","domainWidth":2,"tickColor":"#000000","tickWidth":1.5,"tickSize":4,"labelFont":"Liberation Sans","labelFontWeight":"bold","labelFontSize":11,"labelColor":"#000000","labelPadding":2,"titleFont":"Liberation Sans","titleFontWeight":"bold","titleFontSize":12,"titleColor":"#000000","titlePadding":7,"grid":false},
"header":{"labelOrient":"bottom","titleOrient":"bottom","labelFont":"Liberation Sans","labelFontWeight":"bold","labelFontSize":12,"labelColor":"#000000","labelPadding":3,"titleFont":"Liberation Sans","titleFontWeight":"bold","titleFontSize":12,"titleColor":"#000000","titlePadding":0}}
}
